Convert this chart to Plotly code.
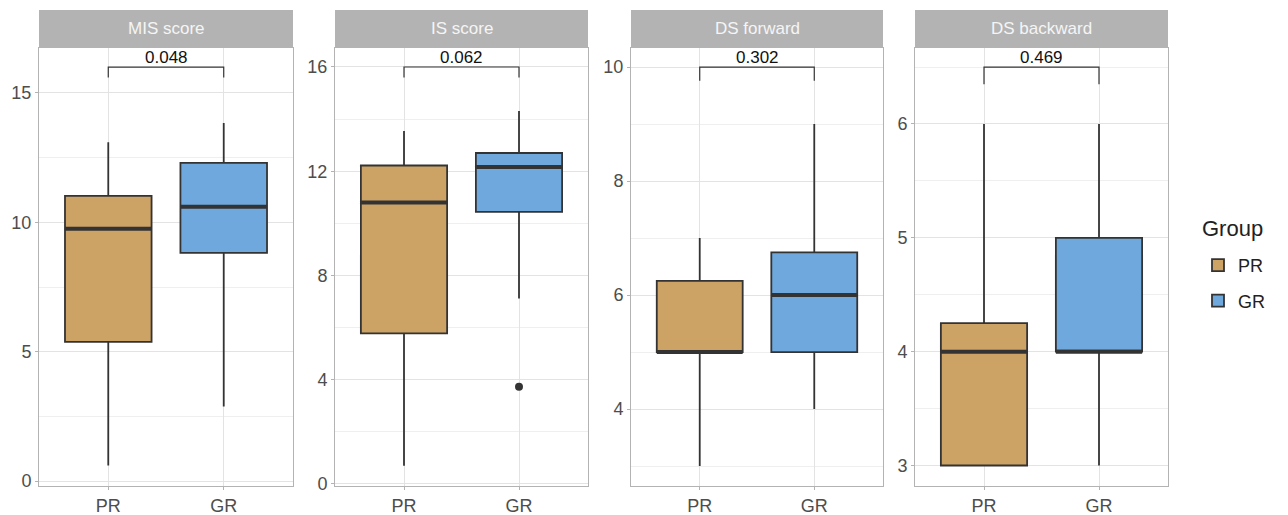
import plotly.graph_objects as go

# ---- data ----
panels = ["MIS score", "IS score", "DS forward", "DS backward"]
groups = ["PR", "GR"]
group_pos = [1, 2]

pr_lo = [0.6, 0.7, 3.0, 3.0]
pr_q1 = [5.38, 5.78, 5.0, 3.0]
pr_med = [9.75, 10.8, 5.0, 4.0]
pr_q3 = [11.02, 12.22, 6.25, 4.25]
pr_hi = [13.1, 13.54, 7.0, 6.0]

gr_lo = [2.88, 7.12, 4.0, 3.0]
gr_q1 = [8.82, 10.44, 5.0, 4.0]
gr_med = [10.6, 12.16, 6.0, 4.0]
gr_q3 = [12.3, 12.7, 6.75, 5.0]
gr_hi = [13.84, 14.31, 9.0, 6.0]

# outliers: (panel index, group index, value)
outlier_panel = [1]
outlier_group = [1]
outlier_value = [3.73]

p_values = ["0.048", "0.062", "0.302", "0.469"]
bracket_y = [16.0, 16.0, 10.0, 6.5]
bracket_tip = [15.6, 15.6, 9.76, 6.35]

y_ranges = [[-0.19, 16.75], [-0.08, 16.74], [2.65, 10.34], [2.82, 6.67]]
y_dtick = [5, 4, 2, 1]
y_tick0 = [0, 0, 0, 0]

legend_title = "Group"

# ---- style ----
fill_colors = {"PR": "#CDA265", "GR": "#6FA8DC"}
line_col = "#333333"
OFF = 8  # page body margin in the browser
W, H = 1288 - OFF, 515 - OFF
x_domains = [(39, 293), (335, 588), (631, 883), (915, 1168)]
y_bottom_px, y_top_px, strip_top_px = 486, 47.7, 10
box_width = 0.75
FONT = "Liberation Sans, Arial, sans-serif"

stats = {
    "PR": (pr_lo, pr_q1, pr_med, pr_q3, pr_hi),
    "GR": (gr_lo, gr_q1, gr_med, gr_q3, gr_hi),
}


def px_x(v):
    return (v - OFF) / W


def px_y(v):
    return 1 - (v - OFF) / H


fig = go.Figure()
shapes = []
annotations = []

for i, name in enumerate(panels):
    xa = "x" if i == 0 else f"x{i+1}"
    ya = "y" if i == 0 else f"y{i+1}"
    for gi, g in enumerate(groups):
        lo, q1, med, q3, hi = stats[g]
        fig.add_trace(go.Box(
            x=[group_pos[gi]], q1=[q1[i]], median=[med[i]], q3=[q3[i]],
            lowerfence=[lo[i]], upperfence=[hi[i]],
            width=box_width, whiskerwidth=0, boxpoints=False,
            fillcolor=fill_colors[g], line=dict(color=line_col, width=1.8),
            name=g, legendgroup=g, showlegend=(i == 0),
            xaxis=xa, yaxis=ya, hoverinfo="skip",
        ))
        # thicker median line
        fig.add_trace(go.Scatter(
            x=[group_pos[gi] - box_width / 2, group_pos[gi] + box_width / 2],
            y=[med[i], med[i]], mode="lines",
            line=dict(color=line_col, width=4), showlegend=False,
            legendgroup=g, xaxis=xa, yaxis=ya, hoverinfo="skip",
        ))
    # outliers
    for pi, gi, v in zip(outlier_panel, outlier_group, outlier_value):
        if pi == i:
            fig.add_trace(go.Scatter(
                x=[group_pos[gi]], y=[v], mode="markers",
                marker=dict(color=line_col, size=8), showlegend=False,
                xaxis=xa, yaxis=ya, hoverinfo="skip",
            ))
    # significance bracket
    fig.add_trace(go.Scatter(
        x=[group_pos[0], group_pos[0], group_pos[1], group_pos[1]],
        y=[bracket_tip[i], bracket_y[i], bracket_y[i], bracket_tip[i]],
        mode="lines", line=dict(color=line_col, width=1.2),
        showlegend=False, xaxis=xa, yaxis=ya, hoverinfo="skip",
    ))
    annotations.append(dict(
        x=(group_pos[0] + group_pos[1]) / 2, y=bracket_y[i], xref=xa, yref=ya,
        text=p_values[i], showarrow=False, yanchor="bottom", yshift=-2,
        font=dict(family=FONT, size=17, color="#111111"),
    ))

    x0, x1 = px_x(x_domains[i][0]), px_x(x_domains[i][1])
    y0, y1 = px_y(y_bottom_px), px_y(y_top_px)
    ys = px_y(strip_top_px)
    axis_common = dict(
        showline=True, mirror=True, linecolor="#B3B3B3", linewidth=1,
        ticks="outside", ticklen=3, tickcolor="#B3B3B3", tickwidth=1,
        tickfont=dict(family=FONT, size=18, color="#4D4D4D"),
        gridcolor="#E3E3E3", gridwidth=1, zeroline=False, automargin=False,
    )
    fig.update_layout(**{
        ("xaxis" if i == 0 else f"xaxis{i+1}"): dict(
            domain=[x0, x1], range=[0.4, 2.6], tickmode="array",
            tickvals=group_pos, ticktext=groups, anchor=ya, **axis_common,
        ),
        ("yaxis" if i == 0 else f"yaxis{i+1}"): dict(
            domain=[y0, y1], range=y_ranges[i], tick0=y_tick0[i], dtick=y_dtick[i],
            anchor=xa,
            minor=dict(dtick=y_dtick[i] / 2, tick0=y_tick0[i], showgrid=True,
                       gridcolor="#EFEFEF", gridwidth=0.8, ticks=""),
            **axis_common,
        ),
    })
    # strip header
    shapes.append(dict(type="rect", xref="paper", yref="paper",
                       x0=x0, x1=x1, y0=y1, y1=ys,
                       fillcolor="#B3B3B3", line=dict(width=0), layer="below"))
    annotations.append(dict(
        x=(x0 + x1) / 2, y=(y1 + ys) / 2, xref="paper", yref="paper",
        text=name, showarrow=False, xanchor="center", yanchor="middle",
        font=dict(family=FONT, size=17, color="#F5F5F5"),
    ))

# legend title
annotations.append(dict(
    x=px_x(1200), y=px_y(228), xref="paper", yref="paper", text=legend_title,
    showarrow=False, xanchor="left", yanchor="middle",
    font=dict(family=FONT, size=22, color="#222222"),
))

fig.update_layout(
    width=W, height=H,
    margin=dict(l=0, r=0, t=0, b=0),
    paper_bgcolor="white", plot_bgcolor="white",
    showlegend=True,
    legend=dict(
        x=px_x(1198), y=px_y(283), xanchor="left", yanchor="middle",
        font=dict(family=FONT, size=18, color="#222222"),
        tracegroupgap=9, bgcolor="rgba(0,0,0,0)",
    ),
    shapes=shapes, annotations=annotations,
    boxmode="overlay",
)

fig.write_html("out.html")
